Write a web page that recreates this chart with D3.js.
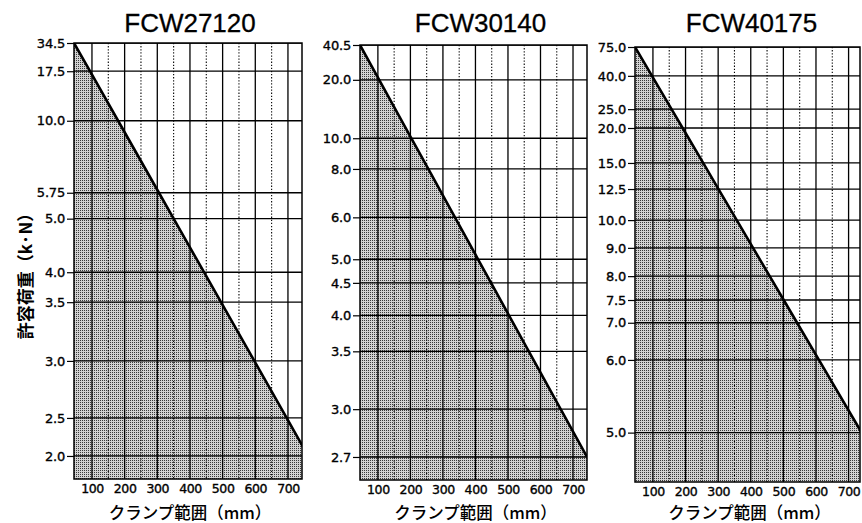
<!DOCTYPE html>
<html>
<head>
<meta charset="utf-8">
<script src="https://cdn.jsdelivr.net/npm/d3@7"></script>
<style>
  body { margin: 0; background: #fff; }
  svg { display: block; }
</style>
</head>
<body>
<div id="chart"></div>
<script>
// clamp range ticks (mm)
const xTicks = [100, 200, 300, 400, 500, 600, 700];
const xMinorTicks = [150, 250, 350, 450, 550, 650];

// allowable load (kN) tick values and the clamp range where the curve meets them
const loads27120 = [34.5, 17.5, 10.0, 5.75, 5.0, 4.0, 3.5, 3.0, 2.5, 2.0];
const ranges27120 = [45, 94, 180, 305, 350, 443, 495, 597, 696, 762];

const loads30140 = [40.5, 20.0, 10.0, 8.0, 6.0, 5.0, 4.5, 4.0, 3.5, 3.0, 2.7];
const ranges30140 = [45, 104, 203, 255, 337, 408, 448, 503, 564, 662, 743];

const loads40175 = [75.0, 40.0, 25.0, 20.0, 15.0, 12.5, 10.0, 9.0, 8.0, 7.5, 7.0, 6.0, 5.0];
const ranges40175 = [45, 97, 157, 191, 254, 301, 357, 407, 458, 501, 542, 609, 740];

const panels = [
  { title: 'FCW27120', loads: loads27120, ranges: ranges27120, xMax: 743, rangeAtBottom: 802,
    left: 74, right: 302, top: 43, bottom: 479, titleDx: 2 },
  { title: 'FCW30140', loads: loads30140, ranges: ranges30140, xMax: 743, rangeAtBottom: 782,
    left: 360, right: 587, top: 45, bottom: 480, titleDx: 7 },
  { title: 'FCW40175', loads: loads40175, ranges: ranges40175, xMax: 735, rangeAtBottom: 829,
    left: 635, right: 860, top: 47, bottom: 482, titleDx: 4 },
];

const width = 862;
const height = 523;

const svg = d3.select('#chart')
  .append('svg')
  .attr('width', width)
  .attr('height', height);

// stipple for the allowed region
const defs = svg.append('defs');
const pat = defs.append('pattern')
  .attr('id', 'stipple')
  .attr('patternUnits', 'userSpaceOnUse')
  .attr('width', 2)
  .attr('height', 2);
pat.append('rect').attr('width', 2).attr('height', 2).attr('fill', '#d2d2d2');
pat.append('rect').attr('width', 1).attr('height', 1).attr('fill', '#3a3a3a')
  .attr('shape-rendering', 'crispEdges');

const fmt = (v) => Math.abs(v * 10 - Math.round(v * 10)) < 1e-9 ? v.toFixed(1) : String(v);

const tickFont = (sel, size, spacing) => sel
  .attr('fill', '#000')
  .attr('stroke', '#000')
  .attr('stroke-width', 0.35)
  .style('font-family', '"DejaVu Sans", sans-serif')
  .style('font-size', size)
  .style('letter-spacing', spacing);

panels.forEach((p, i) => {
  const x = d3.scaleLinear().domain([45, p.xMax]).range([p.left, p.right]);
  // vertical position follows the clamp range along the straight curve
  const depth = d3.scaleLinear().domain([45, p.rangeAtBottom]).range([p.top, p.bottom]);
  const y = d3.scaleLinear().domain(p.loads).range(p.ranges.map(depth));

  const pts = p.loads.map((l, j) => ({ load: l, range: p.ranges[j] }));

  defs.append('clipPath').attr('id', 'clip' + i)
    .append('rect')
    .attr('x', p.left).attr('y', p.top)
    .attr('width', p.right - p.left).attr('height', p.bottom - p.top);

  const g = svg.append('g');
  const plot = g.append('g').attr('clip-path', `url(#clip${i})`);

  const area = d3.area()
    .x((d) => x(d.range))
    .y0(p.bottom)
    .y1((d) => y(d.load));

  plot.append('path')
    .datum(pts)
    .attr('d', area)
    .attr('fill', 'url(#stipple)');

  // dotted minor verticals
  plot.selectAll('line.minor')
    .data(xMinorTicks)
    .join('line')
    .attr('class', 'minor')
    .attr('x1', (d) => x(d)).attr('x2', (d) => x(d))
    .attr('y1', p.top).attr('y2', p.bottom)
    .attr('stroke', '#000')
    .attr('stroke-width', 1.1)
    .attr('stroke-dasharray', '1.3,1.8');

  // solid verticals
  plot.selectAll('line.major')
    .data(xTicks)
    .join('line')
    .attr('class', 'major')
    .attr('x1', (d) => x(d)).attr('x2', (d) => x(d))
    .attr('y1', p.top).attr('y2', p.bottom)
    .attr('stroke', '#000')
    .attr('stroke-width', 1.3);

  // horizontal grid at each load tick
  plot.selectAll('line.h')
    .data(p.loads)
    .join('line')
    .attr('class', 'h')
    .attr('x1', p.left).attr('x2', p.right)
    .attr('y1', (d) => y(d)).attr('y2', (d) => y(d))
    .attr('stroke', '#000')
    .attr('stroke-width', 1.3);

  // the load curve
  const line = d3.line()
    .x((d) => x(d.range))
    .y((d) => y(d.load));

  plot.append('path')
    .datum(pts)
    .attr('d', line)
    .attr('fill', 'none')
    .attr('stroke', '#000')
    .attr('stroke-width', 2.6);

  // frame
  g.append('rect')
    .attr('x', p.left).attr('y', p.top)
    .attr('width', p.right - p.left).attr('height', p.bottom - p.top)
    .attr('fill', 'none')
    .attr('stroke', '#000')
    .attr('stroke-width', 1.5);

  // y axis
  const yAxis = g.append('g')
    .attr('transform', `translate(${p.left},0)`)
    .call(d3.axisLeft(y).tickValues(p.loads).tickSize(7).tickPadding(2).tickFormat(fmt));
  yAxis.select('.domain').remove();
  yAxis.selectAll('line').attr('stroke', '#000').attr('stroke-width', 1.2);
  tickFont(yAxis.selectAll('text'), '13px', '-0.2px');

  // x axis
  const xAxis = g.append('g')
    .attr('transform', `translate(0,${p.bottom})`)
    .call(d3.axisBottom(x).tickValues(xTicks).tickSize(0).tickPadding(5));
  xAxis.select('.domain').remove();
  tickFont(xAxis.selectAll('text'), '12.5px', '-0.4px');

  // titles
  const cx = (p.left + p.right) / 2;
  g.append('text')
    .attr('x', cx + p.titleDx).attr('y', 32)
    .attr('text-anchor', 'middle')
    .attr('stroke', '#000')
    .attr('stroke-width', 0.3)
    .style('font-family', '"Liberation Sans", Arial, sans-serif')
    .style('font-size', '26px')
    .text(p.title);

  g.append('text')
    .attr('x', cx + 2).attr('y', 519)
    .attr('text-anchor', 'middle')
    .style('font-family', '"Noto Sans CJK JP", sans-serif')
    .style('font-size', '16.5px')
    .style('font-weight', 500)
    .text('クランプ範囲（mm）');
});

svg.append('text')
  .attr('transform', 'translate(24,272) rotate(-90)')
  .attr('text-anchor', 'middle')
  .attr('dominant-baseline', 'central')
  .style('font-family', '"Noto Sans CJK JP", sans-serif')
  .style('font-size', '17px')
  .style('font-weight', 'bold')
  .text('許容荷重（k·N）');
</script>
</body>
</html>
